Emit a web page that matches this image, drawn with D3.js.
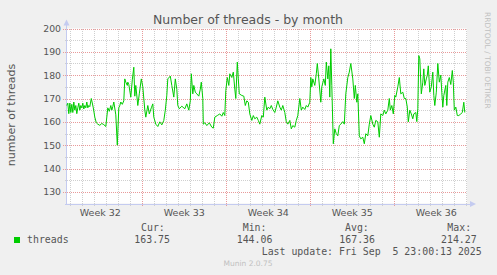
<!DOCTYPE html>
<meta charset="utf-8">
<head>
<style>
  body { margin: 0; background: #f0f0f0; }
  svg { display: block; }
</style>
</head>
<body>
<script src="https://cdn.jsdelivr.net/npm/d3@7/dist/d3.min.js"></script>
<svg id="chart"></svg>
<script>

// hours since 2025-08-03 00:00 UTC, and thread counts
var hours = [17,19,21,23,25,27,29,31,33,35,37,39,41,43,45,47,49,51,53,55,57,59,61,63,66,70,73,76,79,83,
  87,91,95,97,99,102,105,107,109,111,115,118,121,123,125,128,131,133,135,138,139,141,145,148,151,153,155,159,162,166,
  169,173,175,179,182,186,189,191,195,199,203,207,211,214,217,219,224,227,231,234,237,239,242,247,253,257,261,264,266,269,
  271,274,277,281,284,286,289,290,293,297,302,307,310,313,318,323,327,330,333,335,338,341,343,347,350,353,355,358,360,362,
  367,371,374,377,380,383,387,390,393,397,400,403,407,410,413,417,420,423,426,429,433,436,439,443,446,449,453,456,459,463,
  466,469,473,476,479,483,486,489,493,496,499,503,505,507,509,513,516,518,521,525,527,531,534,536,539,541,543,545,547,550,
  553,556,559,562,565,569,572,575,579,582,585,589,592,594,597,599,602,605,609,612,615,619,622,625,629,632,635,639,642,645,
  649,652,655,659,662,664,667,670,673,675,679,682,685,689,692,695,698,700,703,706,709,711,715,717,719,721,723,726,729,731,
  733,736,738,740,743,746,749,751,753,756,759,762,765,767,769,771,775,777,779,782,785,788,790,792,795,798,801,805,808,811,813];

var threads = [167,168,163.5,168,164,167.5,164,168.5,165,167,163.5,166,168,165,167,166,168,165.5,167,166,168.5,166,167,166.5,170,166,162,159.6,159,158.5,
  159.3,158.8,158,162,166,164.5,167,165,166.5,168.5,163,150,166,167,168.5,167.5,169,178.4,177,175.6,177,176,170.6,178,183.4,171,175.6,167,172,178.4,
  175,165,162,167,163.4,166,167.7,162,159,158,160,158.7,160.6,165,171.3,178.4,179.6,175.6,170.6,178.4,174,167,165.6,166.7,165.6,167.7,165,169,180.6,172,
  175.6,172.7,172,171,174,177,170,159,159.6,158.4,159.6,157.7,157.3,162,162.7,163.4,162.4,164,162.7,173.4,179,175.6,180.6,179,181.3,174,170,185.6,178.4,172,
  171.3,171,167,169,168.4,163.4,160.6,162.7,161.3,162,160.6,159,162.7,162,170.6,165,166.3,165.6,167,165.3,164,166.3,169,166.3,165,167,164,160,159,160.6,
  157,158.4,157.7,160.6,162.7,170,165,166.3,165.3,167,166.3,168.4,179,175,178.4,175.6,180.6,185,178.4,168.4,175,178.4,175.6,185.6,178.4,184,170.6,191.3,175.6,150.6,
  157,154.9,154,158.4,159,160.1,159,172,179,181.3,185,178.4,170,175.6,168.4,172,154,152.7,153.4,150.6,154.9,154,159,162.7,159,157.7,160.6,160,153.4,163.4,
  162.7,165,163.4,165,170,165,167,163.4,171.3,170.6,175,179,172,172.7,170,170,166.3,160,165,163.4,161.3,163.4,164,160.1,165.6,188.4,187,172,177,182.7,
  175.6,178.4,180,184,172.7,175,181.3,171.3,167,172.7,185,177,180,172.7,166.3,171.3,175.6,167,177,179,176,182,177,165,166.3,162.7,162.7,163.4,164,168.4,164];

var yTicks = [130, 140, 150, 160, 170, 180, 190, 200];
var weekLabels = ["Week 32", "Week 33", "Week 34", "Week 35", "Week 36"];
var legendHeads = ["Cur:", "Min:", "Avg:", "Max:"];
var legendValues = ["163.75", "144.06", "167.36", "214.27"];
var lastUpdate = "Last update: Fri Sep  5 23:00:13 2025";

var width = 497, height = 275;
var plotLeft = 67, plotRight = 467, plotTop = 28.5, plotBottom = 203.5;

var t0 = Date.UTC(2025, 7, 3);
var hourMs = 3600 * 1000;

var svg = d3.select("#chart").attr("width", width).attr("height", height);

svg.append("rect").attr("width", width).attr("height", height).attr("fill", "#f0f0f0");

var x = d3.scaleUtc()
  .domain([new Date(t0 + 17.4 * hourMs), new Date(t0 + 817.4 * hourMs)])
  .range([plotLeft, plotRight]);
var y = d3.scaleLinear().domain([125, 200]).range([plotBottom, plotTop]);

svg.append("rect")
  .attr("x", plotLeft).attr("y", plotTop)
  .attr("width", plotRight - plotLeft).attr("height", plotBottom - plotTop)
  .attr("fill", "#ffffff");

var grid = svg.append("g").attr("shape-rendering", "crispEdges");

// minor grid: every day and every 5 threads
var days = d3.utcDay.range(x.domain()[0], x.domain()[1]);
grid.selectAll(".vmin").data(days).enter().append("line")
  .attr("x1", function(d) { return Math.round(x(d)) + 0.5; })
  .attr("x2", function(d) { return Math.round(x(d)) + 0.5; })
  .attr("y1", plotTop).attr("y2", plotBottom + 2)
  .attr("stroke", "#cfcfcf").attr("stroke-dasharray", "1,1");

var minorY = d3.range(130, 200, 5).filter(function(v) { return v % 10 != 0; });
grid.selectAll(".hmin").data(minorY).enter().append("line")
  .attr("x1", plotLeft - 2).attr("x2", plotRight)
  .attr("y1", function(d) { return Math.round(y(d)) + 0.5; })
  .attr("y2", function(d) { return Math.round(y(d)) + 0.5; })
  .attr("stroke", "#cfcfcf").attr("stroke-dasharray", "1,1");

// major grid: weeks (sunday) and every 10 threads
var weeks = d3.utcSunday.range(x.domain()[0], x.domain()[1]);
grid.selectAll(".vmaj").data(weeks).enter().append("line")
  .attr("x1", function(d) { return Math.round(x(d)) + 0.5; })
  .attr("x2", function(d) { return Math.round(x(d)) + 0.5; })
  .attr("y1", plotTop).attr("y2", plotBottom + 3)
  .attr("stroke", "#e89a9a").attr("stroke-dasharray", "1,1");

grid.selectAll(".hmaj").data(yTicks).enter().append("line")
  .attr("x1", plotLeft - 4).attr("x2", plotRight)
  .attr("y1", function(d) { return Math.round(y(d)) + 0.5; })
  .attr("y2", function(d) { return Math.round(y(d)) + 0.5; })
  .attr("stroke", "#e89a9a").attr("stroke-dasharray", "1,1");

// axes with arrows
var axisColor = "#c4cbf0";
grid.append("line").attr("x1", plotLeft - 0.5).attr("x2", plotLeft - 0.5)
  .attr("y1", plotBottom + 1).attr("y2", plotTop - 6).attr("stroke", axisColor);
grid.append("line").attr("x1", plotLeft - 2).attr("x2", plotRight + 4)
  .attr("y1", plotBottom + 0.5).attr("y2", plotBottom + 0.5).attr("stroke", axisColor);
svg.append("path")
  .attr("d", "M" + (plotLeft - 3.5) + "," + (plotTop - 3) + "L" + (plotLeft - 0.5) + "," + (plotTop - 9) + "L" + (plotLeft + 2.5) + "," + (plotTop - 3) + "Z")
  .attr("fill", axisColor);
svg.append("path")
  .attr("d", "M" + (plotRight + 3) + "," + (plotBottom - 2.5) + "L" + (plotRight + 9) + "," + (plotBottom + 0.5) + "L" + (plotRight + 3) + "," + (plotBottom + 3.5) + "Z")
  .attr("fill", axisColor);

// data line
var line = d3.line()
  .x(function(d, i) { return x(new Date(t0 + hours[i] * hourMs)); })
  .y(function(d) { return y(d); });

svg.append("path")
  .datum(threads)
  .attr("d", line)
  .attr("fill", "none")
  .attr("stroke", "#00cc00")
  .attr("stroke-width", 1)
  .attr("stroke-linejoin", "round");

var textColor = "#555555";
var sans = "'DejaVu Sans', sans-serif";
var mono = "'DejaVu Sans Mono', monospace";

svg.selectAll(".ytick").data(yTicks).enter().append("text")
  .attr("x", plotLeft - 6)
  .attr("y", function(d) { return y(d) + 3.5; })
  .attr("text-anchor", "end")
  .attr("font-family", sans).attr("font-size", "9.3px")
  .attr("fill", textColor)
  .text(function(d) { return d; });

// week labels sit in the middle of each week
var weekStarts = [d3.utcSunday.offset(weeks[0], -1)].concat(weeks);
svg.selectAll(".xlab").data(weekLabels).enter().append("text")
  .attr("x", function(d, i) { return x(d3.utcHour.offset(weekStarts[i], 84)); })
  .attr("y", 215.7)
  .attr("text-anchor", "middle")
  .attr("font-family", sans).attr("font-size", "9.5px")
  .attr("fill", textColor)
  .text(function(d) { return d; });

svg.append("text")
  .attr("x", 248).attr("y", 24)
  .attr("text-anchor", "middle")
  .attr("font-family", sans).attr("font-size", "12.5px")
  .attr("fill", textColor)
  .text("Number of threads - by month");

svg.append("text")
  .attr("transform", "translate(15,115) rotate(-90)")
  .attr("text-anchor", "middle")
  .attr("font-family", sans).attr("font-size", "11px")
  .attr("fill", textColor)
  .text("number of threads");

svg.append("text")
  .attr("transform", "translate(485,12) rotate(90)")
  .attr("text-anchor", "start")
  .attr("font-family", sans).attr("font-size", "7.5px")
  .attr("fill", "#c0c0c0")
  .text("RRDTOOL / TOBI OETIKER");

// legend
svg.append("rect")
  .attr("x", 14).attr("y", 237).attr("width", 6).attr("height", 6)
  .attr("fill", "#00cc00");
svg.append("text")
  .attr("x", 27).attr("y", 243)
  .attr("font-family", mono).attr("font-size", "9.9px")
  .attr("fill", textColor)
  .text("threads");

var headX = [141, 242.7, 345, 447.3];
var valX = [134.3, 236.7, 339.3, 441];
svg.selectAll(".lhead").data(legendHeads).enter().append("text")
  .attr("x", function(d, i) { return headX[i]; })
  .attr("y", 231)
  .attr("font-family", mono).attr("font-size", "9.9px")
  .attr("fill", textColor)
  .text(function(d) { return d; });
svg.selectAll(".lval").data(legendValues).enter().append("text")
  .attr("x", function(d, i) { return valX[i]; })
  .attr("y", 243)
  .attr("font-family", mono).attr("font-size", "9.9px")
  .attr("fill", textColor)
  .text(function(d) { return d; });

svg.append("text")
  .attr("x", 261.7).attr("y", 255)
  .attr("font-family", mono).attr("font-size", "9.9px")
  .attr("fill", textColor)
  .style("white-space", "pre")
  .text(lastUpdate);

svg.append("text")
  .attr("x", 248).attr("y", 266)
  .attr("text-anchor", "middle")
  .attr("font-family", sans).attr("font-size", "7.5px")
  .attr("fill", "#c0c0c0")
  .text("Munin 2.0.75");

</script>
</body>
